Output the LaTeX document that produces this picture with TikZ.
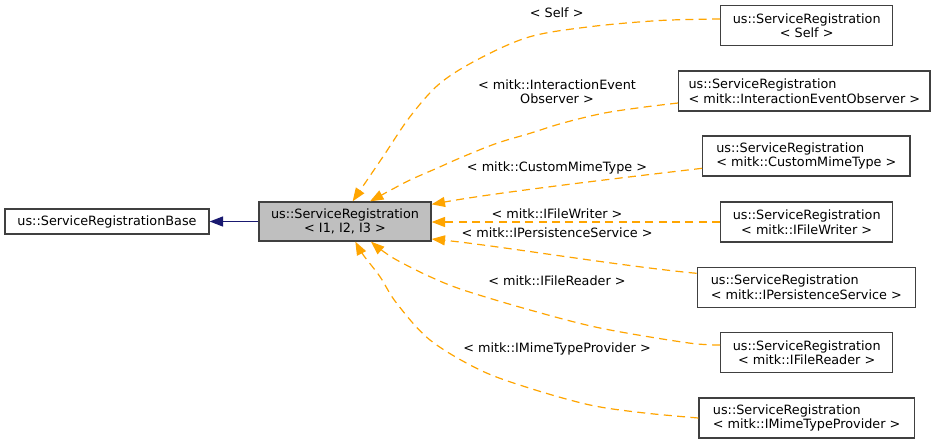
\documentclass[tikz,border=0pt]{standalone}
\usepackage{fontspec}
\setmainfont{DejaVu Sans}
\usetikzlibrary{arrows.meta,calc}
\definecolor{edgeorange}{HTML}{FFA500}
\definecolor{inhblue}{HTML}{191970}
\definecolor{boxgray}{HTML}{BFBFBF}
\definecolor{boxline}{HTML}{404040}
\begin{document}
\begin{tikzpicture}[x=0.75pt,y=-0.75pt,
  lbl/.style={font=\fontsize{9.6pt}{11pt}\selectfont, inner sep=0pt, text=black},
  cls/.style={lbl, draw=boxline, line width=1pt, fill=white, minimum height=30pt},
  tedge/.style={draw=edgeorange, line width=0.9pt, dash pattern=on 6pt off 4pt,
    -{Triangle[length=10pt,width=7.5pt,fill=edgeorange]}},
  inhedge/.style={draw=inhblue, line width=0.9pt,
    -{Triangle[length=10pt,width=7.5pt,fill=inhblue]}}
  ]
\useasboundingbox (0,0) rectangle (940,444);
\fill[white] (0,0) rectangle (940,444);

% nodes
\node[cls, minimum width=153pt, minimum height=18.75pt] (base) at (107,221.5) {us::ServiceRegistrationBase};
\node[cls, fill=boxgray, minimum width=129pt, minimum height=29.25pt, align=center] (main) at (345,221.5) {us::ServiceRegistration\\< I1, I2, I3 >};

\node[cls, minimum width=129pt, align=center] (self) at (806.7,25.7) {us::ServiceRegistration\\< Self >};
\node[cls, minimum width=188.5pt, align=left] (ieo) at (804.35,91) {us::ServiceRegistration\\< mitk::InteractionEventObserver >};
\node[cls, minimum width=155.5pt, align=left] (cmt) at (806.35,156) {us::ServiceRegistration\\< mitk::CustomMimeType >};
\node[cls, minimum width=129pt, align=center] (ifw) at (806.7,222) {us::ServiceRegistration\\< mitk::IFileWriter >};
\node[cls, minimum width=163.5pt, align=left] (ips) at (806.3,287.3) {us::ServiceRegistration\\< mitk::IPersistenceService >};
\node[cls, minimum width=129pt, align=center] (ifr) at (806.7,352.7) {us::ServiceRegistration\\< mitk::IFileReader >};
\node[cls, minimum width=161.5pt, align=left] (imt) at (806.65,418) {us::ServiceRegistration\\< mitk::IMimeTypeProvider >};

% connector end points on the node borders
\coordinate (s0) at ($(self.west)+(0,-6.7)$);
\coordinate (s1) at ($(ieo.west)+(0,12)$);
\coordinate (s2) at ($(cmt.west)+(0,12.3)$);
\coordinate (s4) at ($(ips.west)+(0,-14)$);
\coordinate (s5) at ($(ifr.west)+(0,-7.7)$);
\coordinate (s6) at (imt.west);
\coordinate (m0) at ($(main.north west)+(94.3,0)$);
\coordinate (m1) at ($(main.north west)+(111.7,0)$);
\coordinate (m2) at ($(main.north east)+(0,3)$);
\coordinate (m4) at ($(main.south east)+(0,-2.7)$);
\coordinate (m5) at ($(main.south west)+(112.7,0)$);
\coordinate (m6) at ($(main.south west)+(97,0)$);

% inheritance
\draw[inhedge] (main.west) -- (base.east);

% template instance edges
\draw[tedge] plot[smooth, tension=0.55] coordinates {(s0) (660,20.5) (590,26.7) (530,36.7) (480,58.3) (440,83.3) (410,116.7) (383,156.7) (m0)};
\draw[tedge] plot[smooth, tension=0.55] coordinates {(s1) (642.5,107.3) (603,113.3) (563,123) (530,133.3) (496.7,143.3) (463,156.7) (436.7,168.3) (410,180) (390,190.5) (m1)};
\draw[tedge] (s2) .. controls (620,178) and (500,192) .. (m2);
\draw[tedge] (ifw.west) -- (ifw.west -| main.east);
\draw[tedge] (s4) .. controls (620,266) and (500,246) .. (m4);
\draw[tedge] plot[smooth, tension=0.55] coordinates {(s5) (686.7,342.7) (600,328) (530,310) (463.3,290) (430,276.7) (396.7,260) (380,249) (m5)};
\draw[tedge] plot[smooth, tension=0.55] coordinates {(s6) (642,412.7) (590,405) (530,388.3) (480,370) (430,340) (396.7,303.3) (380,276.7) (363.3,255) (m6)};

% edge labels
\node[lbl] (l0) at (556.7,12.3) {< Self >};
\node[lbl, align=center] (l1) at (557,91.7) {< mitk::InteractionEvent\\Observer >};
\node[lbl, anchor=base] (l2) at (557,171.2) {< mitk::CustomMimeType >};
\node[lbl, anchor=base] (l3) at (557,218.5) {< mitk::IFileWriter >};
\node[lbl, anchor=base] (l4) at (557,237.8) {< mitk::IPersistenceService >};
\node[lbl, anchor=base] (l5) at (557,285.2) {< mitk::IFileReader >};
\node[lbl, anchor=base] (l6) at (557,352.8) {< mitk::IMimeTypeProvider >};
\end{tikzpicture}
\end{document}
